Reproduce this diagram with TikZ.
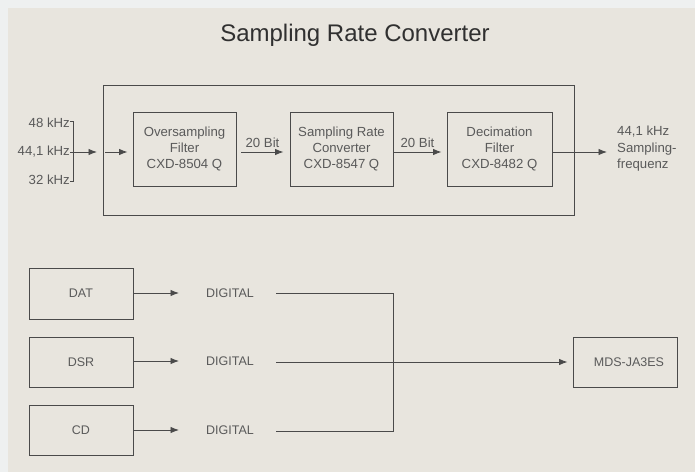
\documentclass[tikz,border=0pt]{standalone}
\usepackage{fontspec}
\setmainfont{Liberation Sans}
\usetikzlibrary{arrows.meta}
\definecolor{bg}{HTML}{E8E5DE}
\definecolor{strip}{HTML}{EEF0F0}
\definecolor{ln}{HTML}{4A4A4A}
\definecolor{tx}{HTML}{5A5A5A}
\definecolor{ttl}{HTML}{303030}
\begin{document}
\begin{tikzpicture}[x=1pt,y=-1pt,
  box/.style={draw=ln,line width=0.9pt,minimum width=#1,inner sep=0pt,text=tx,font=\fontsize{13.2}{16}\selectfont,align=center},
  box/.default=104pt,
  lbl/.style={text=tx,font=\fontsize{13.2}{16.5}\selectfont,inner sep=0pt},
  sml/.style={text=tx,font=\fontsize{12.5}{15}\selectfont,inner sep=0pt},
  conn/.style={draw=ln,line width=0.9pt},
  arr/.style={conn,-{Latex[length=8.5pt,width=6.5pt]}}]
\useasboundingbox (0,0) rectangle (695,472);
\fill[strip] (0,0) rectangle (695,472);
\fill[bg] (8,8) rectangle (695,472);
% title
\node[text=ttl,font=\fontsize{24}{28}\selectfont,inner sep=0pt] (title) at (355,35) {Sampling Rate Converter};
% outer box
\node[draw=ln,line width=0.9pt,minimum width=471pt,minimum height=130pt,inner sep=0pt] (outer) at (338.5,150.5) {};
% inner boxes
\node[box=103pt,minimum height=74pt] (osf) at (184.5,149) {Oversampling\\Filter\\CXD-8504 Q};
\node[box=103pt,minimum height=74pt] (src) at (341.5,149) {Sampling Rate\\Converter\\CXD-8547 Q};
\node[box=105pt,minimum height=74pt] (dec) at (499.5,149) {Decimation\\Filter\\CXD-8482 Q};
% inputs
\node[lbl,anchor=east] (i48) at (70,123) {48 kHz};
\node[lbl,anchor=east] (i44) at (70,152) {44,1 kHz};
\node[lbl,anchor=east] (i32) at (70,180) {32 kHz};
\coordinate (bt) at (73,121);
\coordinate (bb) at (73,181);
\coordinate (bm) at (73,152);
\coordinate (a1e) at (97,152);
\coordinate (a2s) at (105,152);
\draw[conn] (i48.east |- bt) -- (bt) -- (bb) -- (i32.east |- bb);
\draw[conn] (i44.east) -- (bm);
\draw[arr] (bm) -- (a1e);
\draw[arr] (a2s) -- ([xshift=-5pt]osf.west |- a2s);
% chain arrows
\draw[arr] ([xshift=5pt]osf.east |- 0,152) -- node[lbl,above=4pt] (b1) {20 Bit} ([xshift=-6pt]src.west |- 0,152);
\draw[arr] (src.east |- 0,152) -- node[lbl,above=4pt] (b2) {20 Bit} ([xshift=-5pt]dec.west |- 0,152);
\node[lbl,anchor=west,align=left] (out) at (617,149) {44,1 kHz\\Sampling-\\frequenz};
\draw[arr] (dec.east |- 0,152) -- (607,152);
% bottom section
\node[box=104pt,minimum height=51pt,font=\fontsize{12.5}{15}\selectfont] (dat) at (81,293.5) {DAT};
\node[box=104pt,minimum height=50pt,font=\fontsize{12.5}{15}\selectfont] (dsr) at (81,362) {DSR};
\node[box=104pt,minimum height=50pt,font=\fontsize{12.5}{15}\selectfont] (cd) at (81,430) {CD};
\node[sml] (d1) at (230,293) {DIGITAL};
\node[sml] (d2) at (230,361) {DIGITAL};
\node[sml] (d3) at (230,430) {DIGITAL};
\node[box=104pt,minimum height=50pt,font=\fontsize{12.5}{15}\selectfont] (mds) at (625,362) {\hspace{8pt}MDS-JA3ES};
\draw[arr] (dat.east |- 0,293) -- (179,293);
\draw[arr] (dsr.east |- 0,361) -- (179,361);
\draw[arr] (cd.east) -- (179,430);
\coordinate (jt) at (393,293);
\coordinate (jm) at (393,362);
\coordinate (jb) at (393,431);
\draw[conn] (276,293) -- (jt) -- (jb) -- (276,431);
\draw[arr] (276,362) -- ([xshift=-5pt]mds.west);
\end{tikzpicture}
\end{document}
